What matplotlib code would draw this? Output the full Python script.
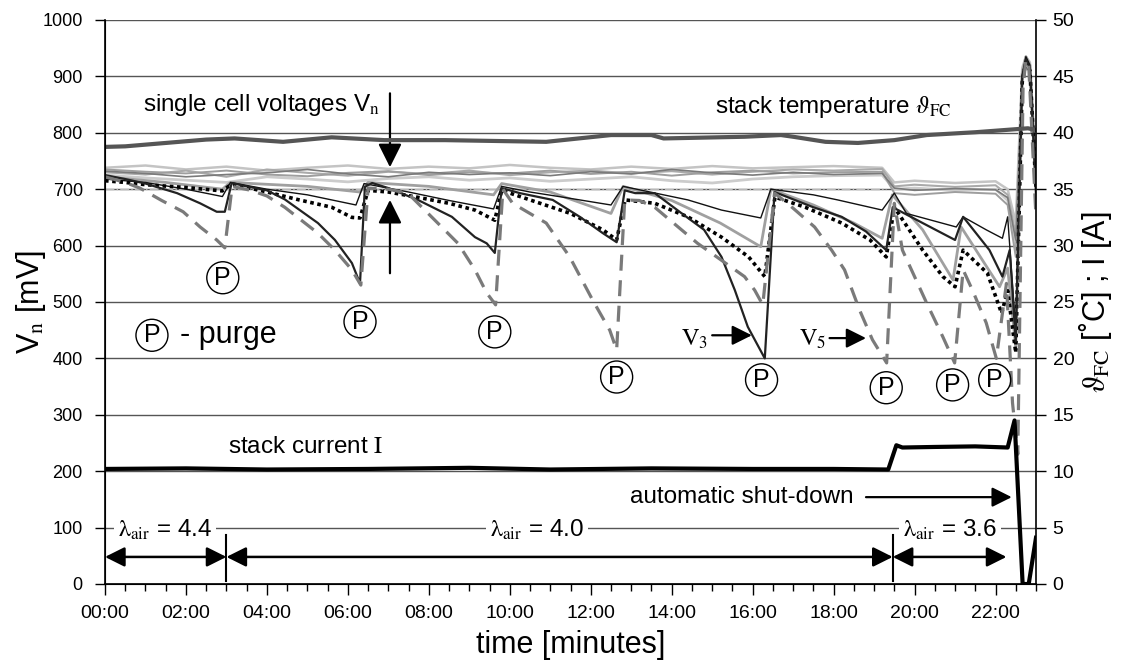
import matplotlib
matplotlib.use('Agg')
import matplotlib.pyplot as plt
from matplotlib.ticker import MultipleLocator, FuncFormatter

plt.rcParams['font.family'] = ['Liberation Sans', 'DejaVu Sans']
plt.rcParams['mathtext.fontset'] = 'stix'

# --- data (time in minutes, voltages in mV) ---
# cell V5 (dashed grey, deepest purge dips)
t_v5 = [0, 0.5, 0.86, 1.4, 1.93, 2.35, 2.76, 2.96, 3.14, 3.6, 4.0, 4.44, 5.26, 5.68, 6.1, 6.32,
        6.5, 7.0, 7.48, 8.15, 8.72, 9.14, 9.43, 9.65, 9.83, 10.07, 10.9, 11.48, 12.05, 12.47,
        12.64, 12.84, 13.2, 13.58, 14.64, 15.23, 15.8, 16.05, 16.25, 16.54, 16.86, 17.53, 17.95,
        18.27, 18.64, 18.96, 19.31, 19.5, 19.7, 20.3, 20.7, 20.99, 21.2, 21.43, 21.77, 22.02,
        22.27, 22.42, 22.55, 22.68, 22.75, 22.82, 23.0]
v5 = [722, 712, 702, 680, 660, 633, 610, 596, 705, 698, 688, 668, 622, 592, 557, 530,
      702, 700, 693, 645, 604, 557, 516, 495, 700, 675, 640, 580, 503, 450,
      415, 681, 680, 668, 604, 574, 545, 521, 495, 693, 675, 633, 592,
      557, 486, 433, 392, 675, 592, 498, 438, 392, 557, 521, 463, 400,
      533, 321, 230, 880, 930, 920, 650]

# cell V3 (solid black)
t_v3 = [0, 0.5, 1.0, 1.78, 2.35, 2.76, 2.96, 3.13, 3.5, 4.0, 4.44, 5.26, 5.68, 6.1, 6.3, 6.42,
        6.6, 7.0, 7.73, 8.57, 9.14, 9.43, 9.63, 9.8, 10.25, 11.06, 11.73, 12.3, 12.64, 12.84,
        13.1, 13.58, 14.25, 14.8, 15.23, 15.56, 15.88, 16.3, 16.54, 16.86, 17.5, 18.2, 18.8,
        19.3, 19.46, 20.2, 20.6, 21.0, 21.2, 21.85, 22.17, 22.35, 22.5, 22.66, 22.75, 22.85, 23.0]
v3 = [725, 718, 710, 693, 675, 660, 660, 711, 705, 698, 682, 640, 610, 569, 533, 704,
      711, 702, 681, 651, 615, 604, 587, 702, 693, 681, 651, 622, 606, 698,
      693, 693, 657, 628, 580, 521, 456, 400, 695, 686, 668, 651, 625,
      592, 668, 640, 625, 610, 651, 592, 545, 592, 430, 900, 930, 915, 690]

# dotted black cell
t_dot = [0, 0.5, 1.0, 2.0, 2.9, 3.05, 3.2, 4.0, 4.8, 5.6, 6.1, 6.3, 6.5, 7.0, 7.7, 8.5, 9.14,
         9.63, 9.8, 10.5, 11.5, 12.3, 12.64, 12.85, 13.58, 14.4, 15.23, 15.9, 16.3, 16.55,
         17.3, 18.2, 18.9, 19.3, 19.5, 20.2, 20.7, 21.0, 21.2, 21.8, 22.15, 22.3, 22.5, 22.66,
         22.75, 22.85, 23.0]
v_dot = [715, 712, 708, 703, 697, 705, 708, 695, 681, 668, 650, 649, 698, 695, 686, 675, 663,
         645, 698, 681, 657, 628, 610, 681, 675, 651, 615, 580, 545, 686,
         668, 640, 610, 580, 668, 592, 545, 527, 592, 551, 480, 520, 410, 890,
         925, 910, 700]

# thin black cell
t_thin = [0, 1.0, 2.0, 2.9, 3.1, 4.0, 5.0, 6.2, 6.4, 7.5, 8.5, 9.6, 9.8, 10.5, 11.3, 12.5, 12.8,
          14.4, 15.23, 16.2, 16.45, 17.5, 18.1, 19.2, 19.5, 19.8, 21.03, 21.2, 21.77, 22.17,
          22.3, 22.5, 22.66, 22.75, 22.85, 23.0]
v_thin = [718, 712, 700, 687, 712, 700, 690, 672, 710, 695, 680, 665, 705, 695, 686, 672, 705,
          681, 663, 649, 700, 690, 681, 663, 693, 657, 633, 651, 628, 613,
          651, 450, 900, 935, 920, 720]

# medium grey cell
t_grey = [0, 1.5, 2.9, 3.1, 5.0, 6.3, 6.5, 8.0, 9.6, 9.8, 11.0, 12.5, 12.8, 14.0, 15.2, 16.2,
          16.45, 17.5, 18.5, 19.2, 19.45, 20.2, 20.95, 21.15, 22.1, 22.3, 22.5, 22.66, 22.75,
          22.85, 23.0]
v_grey = [722, 712, 700, 712, 705, 695, 712, 705, 690, 710, 695, 657, 705, 680, 640, 598,
          700, 672, 640, 613, 690, 628, 539, 633, 527, 560, 420, 905, 935,
          920, 710]

# the group of steady cells (light greys)
t_grp = [0, 1, 2, 3, 4, 5, 6, 7, 8, 9, 10, 11, 12, 13, 14, 15, 16, 17, 18, 19.2, 19.5, 20, 21,
         22, 22.3, 22.5, 22.66, 22.75, 22.85, 23.0]
v_a = [738, 742, 735, 740, 733, 738, 742, 736, 740, 737, 743, 738, 735, 740, 736, 741, 737, 739,
       741, 738, 712, 715, 711, 714, 700, 640, 915, 935, 925, 735]
v_b = [730, 726, 733, 722, 735, 729, 724, 731, 727, 733, 725, 730, 733, 728, 732, 726, 731, 735,
       733, 736, 705, 708, 704, 707, 690, 620, 905, 930, 920, 730]
v_c = [725, 720, 716, 712, 722, 718, 713, 719, 722, 716, 720, 714, 718, 722, 715, 711, 718, 722,
       724, 725, 700, 702, 698, 700, 680, 600, 900, 928, 918, 725]
v_d = [735, 731, 728, 733, 726, 723, 729, 732, 725, 730, 728, 733, 727, 731, 724, 730, 733, 728,
       730, 731, 693, 690, 695, 692, 672, 580, 895, 925, 915, 722]
v_e = [732, 728, 722, 726, 729, 735, 727, 722, 730, 726, 729, 724, 731, 727, 735, 729, 725, 730,
       726, 728, 702, 698, 701, 699, 685, 610, 900, 932, 920, 728]

# stack temperature [degC] and stack current [A] (right axis)
t_temp = [0, 0.5, 1.5, 2.5, 3.2, 4.4, 5.6, 6.9, 8.4, 10.9, 12.5, 13.5, 13.8, 15.8, 16.7, 17.0,
          17.8, 18.6, 19.5, 20.3, 21.5, 22.8, 23.0]
temp = [38.75, 38.8, 39.1, 39.4, 39.5, 39.2, 39.6, 39.35, 39.35, 39.2, 39.8, 39.8, 39.5, 39.65,
        39.8, 39.65, 39.2, 39.1, 39.35, 39.8, 40.05, 40.4, 40.25]
t_cur = [0, 2.0, 4.0, 6.5, 9.0, 11.0, 13.5, 16.0, 18.0, 19.35, 19.55, 19.7, 20.5, 21.5, 22.3,
         22.47, 22.67, 22.82, 23.0]
cur = [10.2, 10.25, 10.15, 10.2, 10.3, 10.15, 10.25, 10.2, 10.2, 10.15, 12.3, 12.1, 12.15, 12.2,
       12.1, 14.5, 0, 0, 4.1]

# purge instants (P markers) and lambda regions
purge_t = [2.91, 6.3, 9.63, 12.64, 16.22, 19.3, 20.94, 21.98]
purge_v = [543, 465, 447, 367, 362, 348, 353, 362]
lam_edges = [0, 3.0, 19.46, 22.27]
lam_text = ['4.4', '4.0', '3.6']
lam_pos = [1.48, 10.67, 20.87]

fig = plt.figure(figsize=(11.3, 6.63), dpi=100)
ax = fig.add_axes([105 / 1130, 1 - 584 / 663, 931 / 1130, 564 / 663])
ax2 = ax.twinx()

ax.set_xlim(0, 23)
ax.set_ylim(0, 1000)
ax2.set_ylim(0, 50)

ax.yaxis.set_major_locator(MultipleLocator(100))
ax2.yaxis.set_major_locator(MultipleLocator(5))
ax.xaxis.set_major_locator(MultipleLocator(2))
ax.xaxis.set_minor_locator(MultipleLocator(0.5))
ax.xaxis.set_major_formatter(FuncFormatter(lambda v, p: '%02d:00' % int(round(v))))

ax.grid(axis='y', color='#555555', lw=1.0, zorder=0)
ax.set_axisbelow(True)
ax.spines['top'].set_visible(False)
ax2.spines['top'].set_visible(False)
ax.spines['right'].set_visible(False)
for s in ['left', 'bottom']:
    ax.spines[s].set_linewidth(1.2)
ax2.spines['right'].set_linewidth(1.2)

ax.tick_params(axis='y', direction='out', length=7, width=1, labelsize=13, pad=9)
ax.tick_params(axis='x', which='major', direction='out', length=8, width=1, labelsize=14, pad=7)
ax.tick_params(axis='x', which='minor', direction='out', length=5, width=1)
ax2.tick_params(axis='y', direction='out', length=7, width=1, labelsize=14, pad=5)

# steady cells
ax.plot(t_grp, v_a, color='#c4c4c4', lw=1.8)
ax.plot(t_grp, v_b, color='#aaaaaa', lw=1.5)
ax.plot(t_grp, v_c, color='#cccccc', lw=2.0)
ax.plot(t_grp, v_d, color='#9e9e9e', lw=1.4)
ax.plot(t_grp, v_e, color='#7a7a7a', lw=1.2)
ax.plot([0, 19.3], [700, 700], color='#b8b8b8', lw=1.0, ls='-.')

# weaker cells
ax.plot(t_grey, v_grey, color='#a0a0a0', lw=2.0)
ax.plot(t_thin, v_thin, color='#111111', lw=1.0)
ax.plot(t_dot, v_dot, color='black', lw=2.6, ls=(0, (1, 1)))
ax.plot(t_v3, v3, color='#222222', lw=1.6)
ax.plot(t_v5, v5, color='#7a7a7a', lw=2.3, dashes=(5, 3))

# temperature and current on the right axis
ax2.plot(t_temp, temp, color='#555555', lw=3.0)
ax2.plot(t_cur, cur, color='black', lw=3.0)

txt = 17.5
big = dict(arrowstyle='-|>', lw=1.6, color='black', mutation_scale=36,
           shrinkA=0, shrinkB=0)
mid = dict(arrowstyle='-|>', lw=1.6, color='black', mutation_scale=30,
           shrinkA=0, shrinkB=0)
ax.text(0.94, 849, r'single cell voltages V$_{\rm n}$', fontsize=txt, va='center', ha='left')
ax.annotate('', xy=(7.04, 739), xytext=(7.04, 870), arrowprops=big)
ax.annotate('', xy=(7.04, 681), xytext=(7.04, 551), arrowprops=big)
ax.text(15.06, 846, r'stack temperature $\vartheta_{\rm FC}$', fontsize=txt, va='center', ha='left')
ax.text(3.04, 243, r'stack current $\mathrm{I}$', fontsize=txt, va='center', ha='left')
ax.text(12.96, 154, 'automatic shut-down', fontsize=txt, va='center', ha='left')
ax.annotate('', xy=(22.4, 154), xytext=(18.8, 154), arrowprops=mid)

# V3 / V5 labels
ax.text(14.57, 433, r'$\mathrm{V}_3$', fontsize=txt, va='center', ha='center')
ax.annotate('', xy=(15.98, 441), xytext=(15.0, 441), arrowprops=mid)
ax.text(17.48, 433, r'$\mathrm{V}_5$', fontsize=txt, va='center', ha='center')
ax.annotate('', xy=(18.8, 436), xytext=(17.9, 436), arrowprops=mid)

# purge markers
pbox = dict(boxstyle='circle,pad=0.16', fc='none', ec='black', lw=1.0)
for pt, pv in zip(purge_t, purge_v):
    ax.text(pt, pv, 'P', fontsize=18, ha='center', va='center', bbox=pbox, zorder=5)
ax.text(1.16, 441, 'P', fontsize=18, ha='center', va='center', bbox=pbox)
ax.text(1.85, 441, '- purge', fontsize=22, ha='left', va='center')

# air ratio regions
for a, b in zip(lam_edges[:-1], lam_edges[1:]):
    ax.annotate('', xy=(a, 48), xytext=(b, 48),
                arrowprops=dict(arrowstyle='<|-|>', lw=1.8, color='black',
                                mutation_scale=30, shrinkA=0, shrinkB=0))
for e in lam_edges[1:3]:
    ax.plot([e, e], [5, 87], color='black', lw=1.5)
for xp, s in zip(lam_pos, lam_text):
    ax.text(xp, 96, r'$\mathrm{λ}_{\rm air}$ = ' + s, fontsize=txt, ha='center', va='center',
            bbox=dict(fc='white', ec='none', pad=3))

ax.set_xlabel('time [minutes]', fontsize=22)
ax.set_ylabel(r'V$_{\rm n}$ [mV]', fontsize=22)
ax2.set_ylabel(r'$\vartheta_{\rm FC}$ [˚C] ; I [A]', fontsize=22, rotation=90)
ax.xaxis.label.set_va('center')
ax.yaxis.label.set_va('center')
ax2.yaxis.label.set_va('center')
ax.xaxis.set_label_coords(0.5, -0.108)
ax.yaxis.set_label_coords(-0.08, 0.5)
ax2.yaxis.set_label_coords(1.063, 0.5)

ax.get_ygridlines()[-1].set_color('#b0b0b0')

fig.savefig('out.png', dpi=100)
